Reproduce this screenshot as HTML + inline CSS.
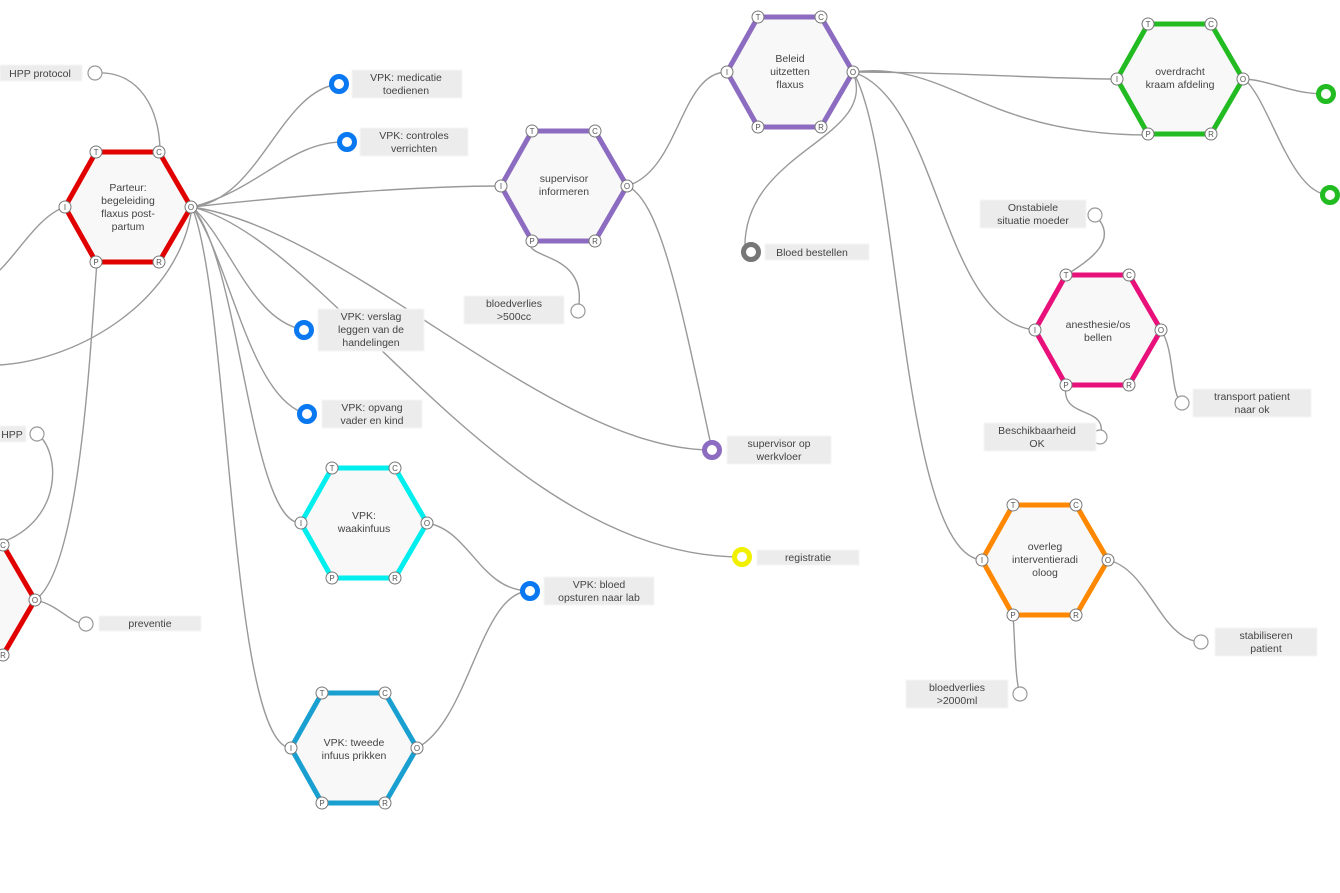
<!DOCTYPE html>
<html><head><meta charset="utf-8"><style>
html,body{margin:0;padding:0;background:#fff;}
svg{display:block;font-family:"Liberation Sans",sans-serif;}
.e{fill:none;stroke:#999;stroke-width:1.4}
.lb{fill:#ececec;stroke:#f6f6f6}
.t{font-size:10.5px;fill:#444;text-anchor:middle}
.h{font-size:10.5px;fill:#444;text-anchor:middle}
.c{fill:#fff;stroke:#777;stroke-width:1}
.ct{font-size:8px;fill:#555;text-anchor:middle}
.w{fill:#fff;stroke:#999;stroke-width:1.2}
</style></head><body>
<svg width="1340" height="893" viewBox="0 0 1340 893">
<defs>
<g id="corners">
<circle class="c" cx="-32" cy="-55" r="6"/><text class="ct" x="-32" y="-52">T</text>
<circle class="c" cx="31" cy="-55" r="6"/><text class="ct" x="31" y="-52">C</text>
<circle class="c" cx="-63" cy="0" r="6"/><text class="ct" x="-63" y="3">I</text>
<circle class="c" cx="63" cy="0" r="6"/><text class="ct" x="63" y="3">O</text>
<circle class="c" cx="-32" cy="55" r="6"/><text class="ct" x="-32" y="58">P</text>
<circle class="c" cx="31" cy="55" r="6"/><text class="ct" x="31" y="58">R</text>
</g>
</defs>
<!-- edges -->
<path class="e" d="M95,73 C140,70 160,110 160,152"/>
<path class="e" d="M65,207 C40,215 20,250 0,270"/>
<path class="e" d="M192,207 C180,300 80,360 0,365"/>
<path class="e" d="M192,207 C260,200 280,90 339,84"/>
<path class="e" d="M192,207 C260,190 290,140 347,142"/>
<path class="e" d="M192,207 C300,195 420,186 500,186"/>
<path class="e" d="M192,207 C230,240 250,320 304,330"/>
<path class="e" d="M192,207 C230,260 250,400 307,414"/>
<path class="e" d="M192,207 C240,260 250,520 300,523"/>
<path class="e" d="M192,207 C230,300 230,740 290,748"/>
<path class="e" d="M192,207 C350,230 550,450 712,450"/>
<path class="e" d="M192,207 C330,240 500,557 742,557"/>
<path class="e" d="M97,262 C90,350 80,570 35,600"/>
<path class="e" d="M37,434 C60,450 65,520 0,543"/>
<path class="e" d="M35,600 C60,605 70,624 86,624"/>
<path class="e" d="M427,523 C470,530 480,591 530,591"/>
<path class="e" d="M417,748 C470,720 480,591 530,591"/>
<path class="e" d="M532,241 C520,260 590,250 578,311"/>
<path class="e" d="M627,186 C660,200 680,300 712,450"/>
<path class="e" d="M627,186 C680,170 680,72 727,72"/>
<path class="e" d="M853,72 C880,140 740,150 745,252"/>
<path class="e" d="M853,72 C950,72 1050,79 1117,79"/>
<path class="e" d="M853,72 C950,60 980,135 1149,135"/>
<path class="e" d="M853,72 C940,100 940,320 1035,330"/>
<path class="e" d="M853,72 C900,150 900,550 981,560"/>
<path class="e" d="M1244,79 C1270,80 1290,94 1326,94"/>
<path class="e" d="M1244,79 C1270,100 1290,195 1330,195"/>
<path class="e" d="M1095,215 C1120,240 1090,260 1066,275"/>
<path class="e" d="M1161,330 C1175,350 1170,395 1182,403"/>
<path class="e" d="M1066,386 C1060,420 1110,405 1100,437"/>
<path class="e" d="M1108,560 C1150,570 1160,640 1201,642"/>
<path class="e" d="M1013,615 C1015,640 1015,680 1020,694"/>
<!-- hexagons -->
<g transform="translate(128,207)"><polygon points="-63,0 -32,-55 31,-55 63,0 31,55 -32,55" fill="#f8f8f8" stroke="#e00000" stroke-width="5"/><use href="#corners"/>
<text class="h" y="-16">Parteur:</text><text class="h" y="-3">begeleiding</text><text class="h" y="10">flaxus post-</text><text class="h" y="23">partum</text></g>
<g transform="translate(-28,600)"><polygon points="-63,0 -32,-55 31,-55 63,0 31,55 -32,55" fill="#f8f8f8" stroke="#e00000" stroke-width="5"/><use href="#corners"/></g>
<g transform="translate(564,186)"><polygon points="-63,0 -32,-55 31,-55 63,0 31,55 -32,55" fill="#f8f8f8" stroke="#8c6cc0" stroke-width="5"/><use href="#corners"/>
<text class="h" y="-4">supervisor</text><text class="h" y="9">informeren</text></g>
<g transform="translate(790,72)"><polygon points="-63,0 -32,-55 31,-55 63,0 31,55 -32,55" fill="#f8f8f8" stroke="#8c6cc0" stroke-width="5"/><use href="#corners"/>
<text class="h" y="-10">Beleid</text><text class="h" y="3">uitzetten</text><text class="h" y="16">flaxus</text></g>
<g transform="translate(1180,79)"><polygon points="-63,0 -32,-55 31,-55 63,0 31,55 -32,55" fill="#f8f8f8" stroke="#22bb22" stroke-width="5"/><use href="#corners"/>
<text class="h" y="-4">overdracht</text><text class="h" y="9">kraam afdeling</text></g>
<g transform="translate(1098,330)"><polygon points="-63,0 -32,-55 31,-55 63,0 31,55 -32,55" fill="#f8f8f8" stroke="#e8107a" stroke-width="5"/><use href="#corners"/>
<text class="h" y="-2">anesthesie/os</text><text class="h" y="11">bellen</text></g>
<g transform="translate(1045,560)"><polygon points="-63,0 -32,-55 31,-55 63,0 31,55 -32,55" fill="#f8f8f8" stroke="#ff8800" stroke-width="5"/><use href="#corners"/>
<text class="h" y="-10">overleg</text><text class="h" y="3">interventieradi</text><text class="h" y="16">oloog</text></g>
<g transform="translate(364,523)"><polygon points="-63,0 -32,-55 31,-55 63,0 31,55 -32,55" fill="#f8f8f8" stroke="#00eeee" stroke-width="5"/><use href="#corners"/>
<text class="h" y="-4">VPK:</text><text class="h" y="9">waakinfuus</text></g>
<g transform="translate(354,748)"><polygon points="-63,0 -32,-55 31,-55 63,0 31,55 -32,55" fill="#f8f8f8" stroke="#1aa0d0" stroke-width="5"/><use href="#corners"/>
<text class="h" y="-2">VPK: tweede</text><text class="h" y="11">infuus prikken</text></g>
<!-- ring nodes -->
<g fill="#fff" stroke-width="5">
<circle cx="339" cy="84" r="7.5" stroke="#0a78f0"/>
<circle cx="347" cy="142" r="7.5" stroke="#0a78f0"/>
<circle cx="304" cy="330" r="7.5" stroke="#0a78f0"/>
<circle cx="307" cy="414" r="7.5" stroke="#0a78f0"/>
<circle cx="530" cy="591" r="7.5" stroke="#0a78f0"/>
<circle cx="712" cy="450" r="7.5" stroke="#8c6cc0"/>
<circle cx="742" cy="557" r="7.5" stroke="#f0f000"/>
<circle cx="751" cy="252" r="7.5" stroke="#777"/>
<circle cx="1326" cy="94" r="7.5" stroke="#22bb22"/>
<circle cx="1330" cy="195" r="7.5" stroke="#22bb22"/>
</g>
<circle class="w" cx="95" cy="73" r="7"/>
<circle class="w" cx="37" cy="434" r="7"/>
<circle class="w" cx="86" cy="624" r="7"/>
<circle class="w" cx="578" cy="311" r="7"/>
<circle class="w" cx="1095" cy="215" r="7"/>
<circle class="w" cx="1100" cy="437" r="7"/>
<circle class="w" cx="1182" cy="403" r="7"/>
<circle class="w" cx="1201" cy="642" r="7"/>
<circle class="w" cx="1020" cy="694" r="7"/>
<!-- labels -->
<rect class="lb" x="0" y="65" width="82" height="16"/><text class="t" x="40" y="77">HPP protocol</text>
<rect class="lb" x="352" y="70" width="110" height="28"/><text class="t" x="406" y="81">VPK: medicatie</text><text class="t" x="406" y="94">toedienen</text>
<rect class="lb" x="360" y="128" width="108" height="28"/><text class="t" x="414" y="139">VPK: controles</text><text class="t" x="414" y="152">verrichten</text>
<rect class="lb" x="318" y="309" width="106" height="42"/><text class="t" x="371" y="320">VPK: verslag</text><text class="t" x="371" y="333">leggen van de</text><text class="t" x="371" y="346">handelingen</text>
<rect class="lb" x="322" y="400" width="100" height="28"/><text class="t" x="372" y="411">VPK: opvang</text><text class="t" x="372" y="424">vader en kind</text>
<rect class="lb" x="0" y="426" width="26" height="16"/><text class="t" x="12" y="438">HPP</text>
<rect class="lb" x="99" y="616" width="102" height="15"/><text class="t" x="150" y="627">preventie</text>
<rect class="lb" x="464" y="296" width="100" height="28"/><text class="t" x="514" y="307">bloedverlies</text><text class="t" x="514" y="320">&gt;500cc</text>
<rect class="lb" x="544" y="577" width="110" height="28"/><text class="t" x="599" y="588">VPK: bloed</text><text class="t" x="599" y="601">opsturen naar lab</text>
<rect class="lb" x="727" y="436" width="104" height="28"/><text class="t" x="779" y="447">supervisor op</text><text class="t" x="779" y="460">werkvloer</text>
<rect class="lb" x="757" y="550" width="102" height="15"/><text class="t" x="808" y="561">registratie</text>
<rect class="lb" x="765" y="244" width="104" height="16"/><text class="t" x="812" y="256">Bloed bestellen</text>
<rect class="lb" x="980" y="200" width="106" height="28"/><text class="t" x="1033" y="211">Onstabiele</text><text class="t" x="1033" y="224">situatie moeder</text>
<rect class="lb" x="984" y="423" width="112" height="28"/><text class="t" x="1037" y="434">Beschikbaarheid</text><text class="t" x="1037" y="447">OK</text>
<rect class="lb" x="1193" y="389" width="118" height="28"/><text class="t" x="1252" y="400">transport patient</text><text class="t" x="1252" y="413">naar ok</text>
<rect class="lb" x="1215" y="628" width="102" height="28"/><text class="t" x="1266" y="639">stabiliseren</text><text class="t" x="1266" y="652">patient</text>
<rect class="lb" x="906" y="680" width="102" height="28"/><text class="t" x="957" y="691">bloedverlies</text><text class="t" x="957" y="704">&gt;2000ml</text>
</svg>
</body></html>
